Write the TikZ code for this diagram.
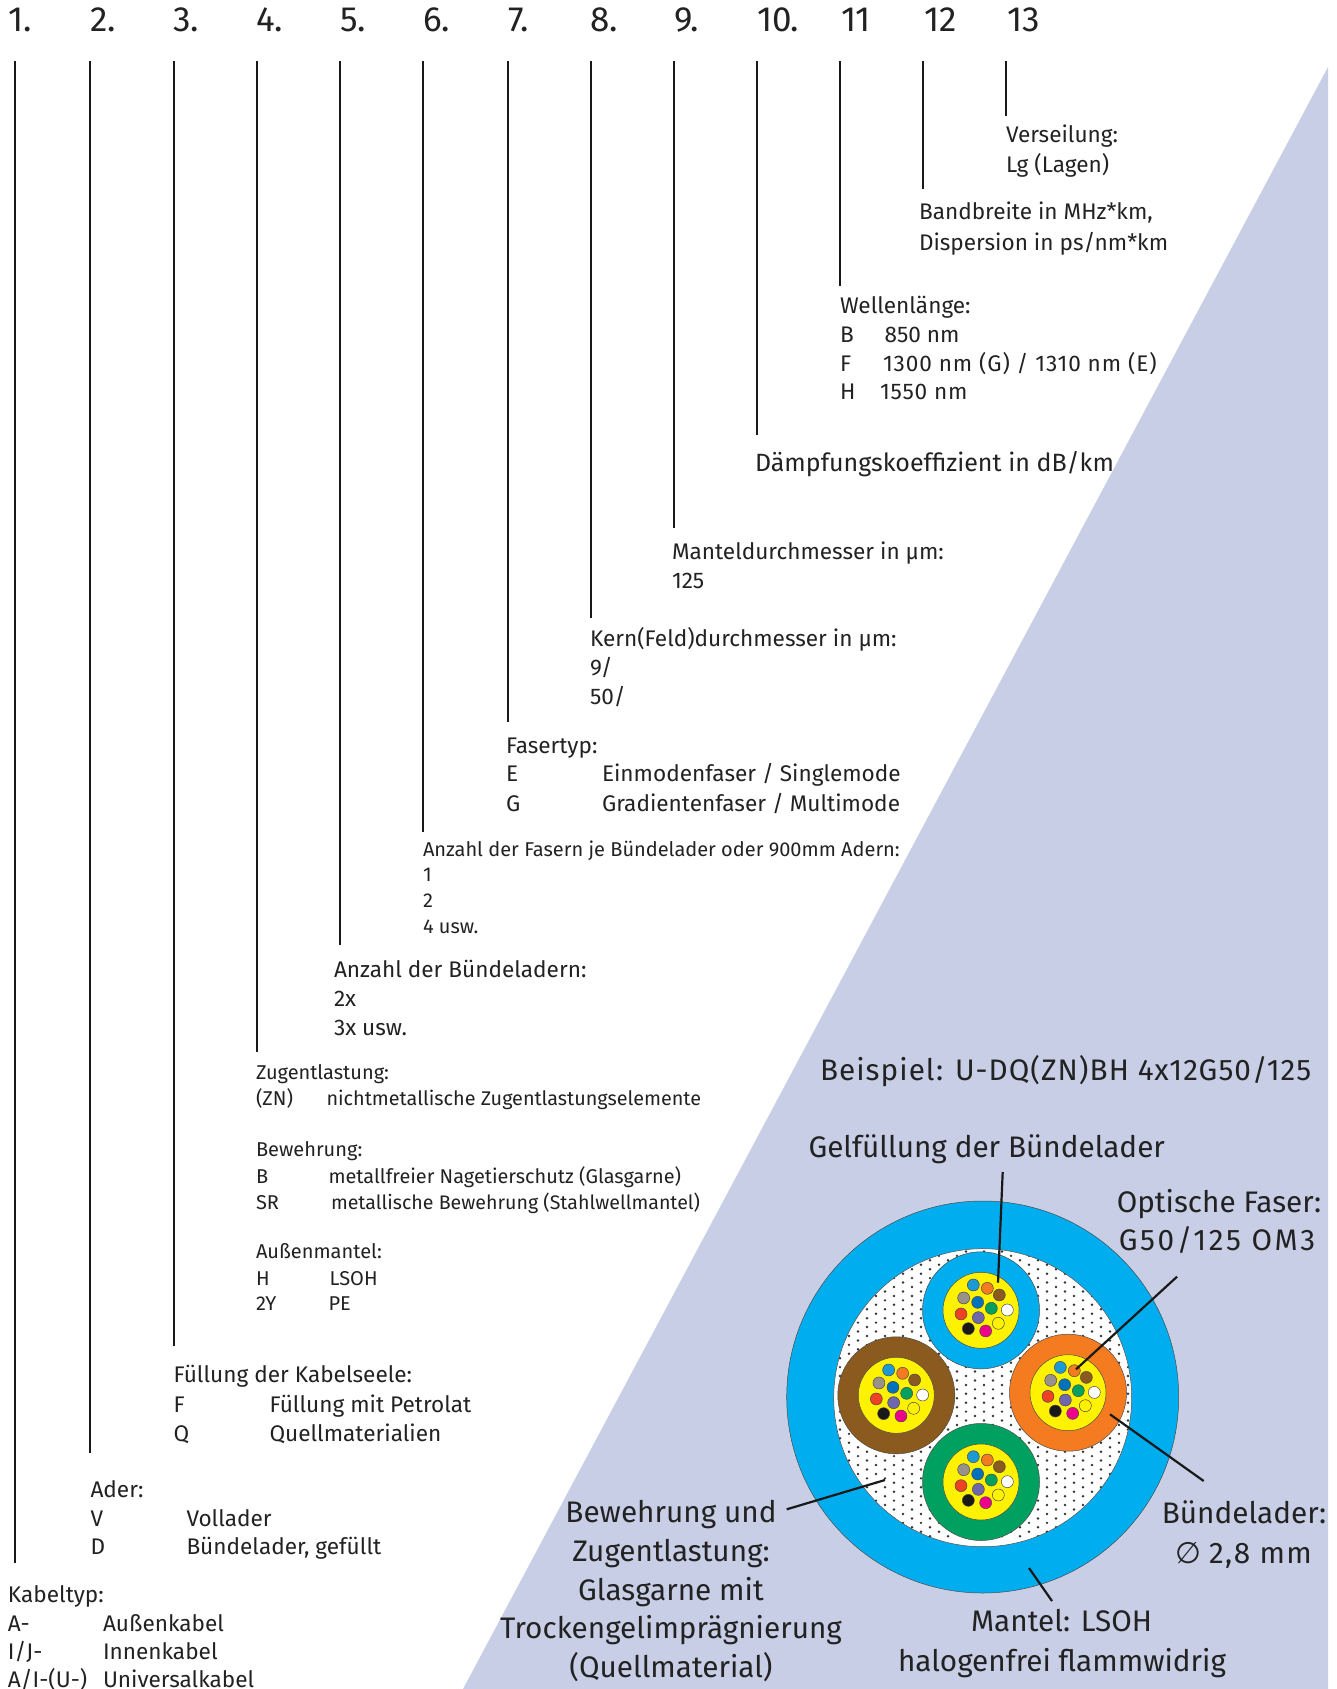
\documentclass[tikz,border=0pt]{standalone}
\usepackage{fontspec}
\setmainfont{Fira Sans}
\newfontfamily\symfont{DejaVu Sans}
\usetikzlibrary{calc}
\definecolor{tri}{HTML}{C8CEE6}
\definecolor{sheath}{HTML}{00AEEF}
\definecolor{fLB}{HTML}{1C9AD6}
\definecolor{fOR}{HTML}{F47B20}
\definecolor{fBR}{HTML}{8B5A1E}
\definecolor{fGY}{HTML}{98928A}
\definecolor{fBL}{HTML}{0072BC}
\definecolor{fGN}{HTML}{00A160}
\definecolor{fRD}{HTML}{EF4123}
\definecolor{fVI}{HTML}{6F67AE}
\definecolor{fMG}{HTML}{EC008C}
\definecolor{fYE}{HTML}{FFF200}
\definecolor{txt}{HTML}{222222}
\tikzset{x=1pt,y=-1pt,
  vline/.style={draw=black!90,line width=2pt},
  lead/.style={draw=black!90,line width=2.2pt},
  lbl/.style={anchor=base west,inner sep=0pt,outer sep=0pt,text=txt,yshift=-0.7pt,font=\fontsize{22.6}{27}\selectfont},
  small/.style={lbl,font=\fontsize{20}{25}\selectfont},
  num/.style={lbl,yshift=-1pt,font=\fontsize{35}{40}\selectfont\addfontfeature{LetterSpace=-1}},
  big/.style={anchor=base,inner sep=0pt,outer sep=0pt,text=txt,font=\fontsize{29.7}{36}\selectfont},
  fibre/.style={draw=black!70,line width=0.5pt},
}
\newcommand{\fib}[4]{\fill[#3,fibre] ($(#1)+(#2*0.3333,#4*0.3333)$) circle[radius=6];}
\newcommand{\cablecore}[2]{%
  \filldraw[fill=#2,draw=black!70,line width=0.5pt] (#1) circle[radius=58.5];
  \filldraw[fill=fYE,draw=black!70,line width=0.5pt] (#1) circle[radius=38];
  \fib{#1}{-23}{fLB}{-76}\fib{#1}{19}{fOR}{-66}\fib{#1}{55}{fBR}{-46}
  \fib{#1}{-52}{fGY}{-37}\fib{#1}{-10}{fBL}{-24}\fib{#1}{31}{fGN}{-6}
  \fib{#1}{79}{white}{-1}\fib{#1}{-60}{fRD}{11}\fib{#1}{-8}{fVI}{22}
  \fib{#1}{52}{fYE}{39}\fib{#1}{-38}{black!90}{55}\fib{#1}{14}{fMG}{62}
}
\begin{document}
\begin{tikzpicture}
\useasboundingbox (0,0) rectangle (1337,1689);
\fill[white] (0,0) rectangle (1337,1689);
\fill[tri] (1328,67) -- (1328,1689) -- (463,1689) -- cycle;
% numbers
\foreach \n/\x/\t in {n1/8.6/1.,n2/90.5/2.,n3/173.4/3.,n4/256.4/4.,n5/340.4/5.,n6/423.3/6.,n7/508.4/7.,n8/590.3/8.,n9/674.3/9.,n10/757.3/10.,n11/841.3/11,n12/924.2/12,n13/1007.2/13}
  \node[num] (\n) at (\x,30) {\t};
% vertical lines
\foreach \a/\x/\b in {a/14.5/1563,b/90.4/1453,c/174/1346,d/257.4/1052,e/340.3/945,f/423/832,g/507.5/722,h/591/618,i/674/528,j/757.4/435,k/840/286,l/923/189,m/1006.4/116}{
  \coordinate (\a t) at (\x,61);
  \coordinate (\a e) at (\x,\b);
  \draw[vline] (\a t) -- (\a e);
}
% texts
\node[lbl] (t13a) at (1006,142) {Verseilung:};
\node[lbl] (t13b) at (1006,172) {Lg (Lagen)};
\node[lbl] (t12a) at (919,219) {Bandbreite in MHz*km,};
\node[lbl] (t12b) at (919,250) {Dispersion in ps/nm*km};
\node[lbl] (t11a) at (840,313) {Wellenlänge:};
\node[lbl] (t11b) at (840,342) {B};
\node[lbl] (t11b2) at (884.6,342) {850 nm};
\node[lbl] (t11c) at (840,371) {F};
\node[lbl] (t11c2) at (883,371) {\addfontfeature{LetterSpace=3.9}1300 nm (G) / 1310 nm (E)};
\node[lbl] (t11d) at (840,399) {H};
\node[lbl] (t11d2) at (880,399) {\addfontfeature{LetterSpace=3.5}1550 nm};
\node[lbl,font=\fontsize{25}{30}\selectfont] (t10) at (755,471) {Dämpfungskoeffizient in dB/km};
\node[lbl] (t9a) at (672,559) {Manteldurchmesser in µm:};
\node[lbl] (t9b) at (672,588) {125};
\node[lbl] (t8a) at (590,646) {Kern(Feld)durchmesser in µm:};
\node[lbl] (t8b) at (590,675) {9/};
\node[lbl] (t8c) at (590,704) {50/};
\node[lbl] (t7a) at (506,753) {Fasertyp:};
\node[lbl] (t7b) at (506,781) {E};
\node[lbl] (t7b2) at (602,781) {Einmodenfaser / Singlemode};
\node[lbl] (t7c) at (506,811) {G};
\node[lbl] (t7c2) at (602,811) {Gradientenfaser / Multimode};
\node[small] (t6a) at (423,856) {Anzahl der Fasern je Bündelader oder 900mm Adern:};
\node[small] (t6b) at (423,881) {1};
\node[small] (t6c) at (423,907) {2};
\node[small] (t6d) at (423,933) {4 usw.};
\node[lbl] (t5a) at (334,977) {Anzahl der Bündeladern:};
\node[lbl] (t5b) at (334,1006) {2x};
\node[lbl] (t5c) at (334,1035) {3x usw.};
\node[small] (t4a) at (256,1079) {Zugentlastung:};
\node[small] (t4b) at (256,1105) {(ZN)};
\node[small,font=\fontsize{19.8}{25}\selectfont] (t4b2) at (326.5,1105) {nichtmetallische Zugentlastungselemente};
\node[small] (t4c) at (256,1156) {Bewehrung:};
\node[small] (t4d) at (256,1183) {B};
\node[small,font=\fontsize{19.9}{25}\selectfont] (t4d2) at (328.5,1183) {metallfreier Nagetierschutz (Glasgarne)};
\node[small] (t4e) at (256,1209) {SR};
\node[small,font=\fontsize{19.6}{25}\selectfont] (t4e2) at (331,1209) {metallische Bewehrung (Stahlwellmantel)};
\node[small] (t4f) at (256,1258) {Außenmantel:};
\node[small] (t4g) at (256,1285) {H};
\node[small] (t4g2) at (329.6,1285) {LSOH};
\node[small] (t4h) at (256,1310) {2Y};
\node[small] (t4h2) at (328.5,1310) {PE};
\node[lbl] (t3a) at (173.5,1382) {Füllung der Kabelseele:};
\node[lbl] (t3b) at (173.5,1412) {F};
\node[lbl] (t3b2) at (269.5,1412) {Füllung mit Petrolat};
\node[lbl] (t3c) at (173.5,1441) {Q};
\node[lbl] (t3c2) at (269.5,1441) {Quellmaterialien};
\node[lbl] (t2a) at (90.5,1497) {Ader:};
\node[lbl] (t2b) at (90.5,1526) {V};
\node[lbl] (t2b2) at (186.5,1526) {Vollader};
\node[lbl] (t2c) at (90.5,1554) {D};
\node[lbl] (t2c2) at (186.5,1554) {Bündelader, gefüllt};
\node[lbl] (t1a) at (8,1602) {Kabeltyp:};
\node[lbl] (t1b) at (8,1631) {A-};
\node[lbl] (t1b2) at (103,1631) {Außenkabel};
\node[lbl] (t1c) at (8,1659) {I/J-};
\node[lbl] (t1c2) at (103,1659) {Innenkabel};
\node[lbl] (t1d) at (8,1687) {A/I-(U-)};
\node[lbl] (t1d2) at (103,1687) {Universalkabel};
% cable
\coordinate (C) at (982.7,1397);
\filldraw[fill=sheath,draw=black!70,line width=0.5pt] (C) circle[radius=196];
\begin{scope}
\clip (982.7,1397.7) circle[radius=149];
\fill[white] (C) circle[radius=150];
\foreach \r in {-36,...,36}{
  \pgfmathsetmacro{\yy}{1376+\r*4.45}
  \pgfmathsetmacro{\xo}{mod(abs(\r),2)*9}
  \foreach \c in {-9,...,9}{
    \fill[black!80] ({966+\xo+\c*18},\yy) circle[radius=1.35];
  }
}
\end{scope}
\draw[black!70,line width=0.5pt] (982.7,1397.7) circle[radius=149];
\coordinate (CT) at (981,1310.3);
\coordinate (CL) at (896.3,1395.3);
\coordinate (CR) at (1068,1392.7);
\coordinate (CB) at (981,1482);
\cablecore{CT}{sheath}
\cablecore{CL}{fBR}
\cablecore{CR}{fOR}
\cablecore{CB}{fGN}
% big labels
\node[big,anchor=base west] (ex) at (820,1080.5) {\addfontfeature{LetterSpace=3.5}Beispiel: U-DQ(ZN)BH 4x12G50/125};
\node[big,anchor=base west] (gel) at (808.5,1157) {Gelfüllung der Bündelader};
\node[big] (opt1) at (1219,1212) {Optische Faser:};
\node[big] (opt2) at (1217,1250) {\addfontfeature{LetterSpace=9}G50/125 OM3};
\node[big] (bl1) at (1244,1523) {Bündelader:};
\node[big] (bl2) at (1243.6,1563) {{\symfont ∅} \addfontfeature{LetterSpace=5}2,8 mm};
\node[big] (ma1) at (1061.6,1631) {Mantel: LSOH};
\node[big] (ma2) at (1062,1671) {halogenfrei flammwidrig};
\node[big] (be1) at (671,1522) {Bewehrung und};
\node[big] (be2) at (671,1561) {Zugentlastung:};
\node[big] (be3) at (671,1600) {Glasgarne mit};
\node[big] (be4) at (671,1638) {Trockengelimprägnierung};
\node[big] (be5) at (671,1677) {(Quellmaterial)};
% leaders
\coordinate (L1a) at (1002.7,1172); \coordinate (L1b) at (998,1282.7);
\coordinate (L2a) at (1177,1276.7); \coordinate (L2b) at (1076,1369.3);
\coordinate (L3a) at (1203.7,1481); \coordinate (L3b) at (1110,1414.3);
\coordinate (L4a) at (786.7,1509.3); \coordinate (L4b) at (885,1480);
\coordinate (L5a) at (1052,1601); \coordinate (L5b) at (1029,1568);
\draw[lead] (L1a) -- (L1b);
\draw[lead] (L2a) -- (L2b);
\draw[lead] (L3a) -- (L3b);
\draw[lead] (L4a) -- (L4b);
\draw[lead] (L5a) -- (L5b);
\end{tikzpicture}
\end{document}
